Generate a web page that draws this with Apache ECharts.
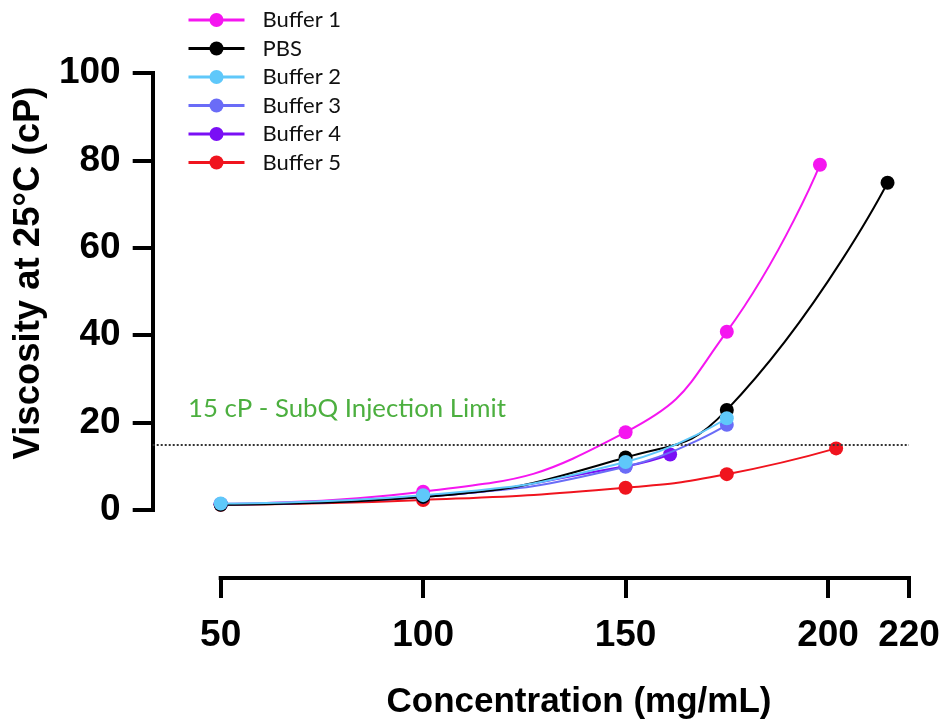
<!DOCTYPE html>
<html>
<head>
<meta charset="utf-8">
<script src="https://cdn.jsdelivr.net/npm/echarts@6/dist/echarts.min.js"></script>
<style>html,body{margin:0;padding:0;background:#fff}#c{width:943px;height:721px}</style>
</head>
<body>
<div id="c"></div>
<script>
// ---- data ----
const seriesNames = ['Buffer 1', 'PBS', 'Buffer 2', 'Buffer 3', 'Buffer 4', 'Buffer 5'];
const buffer1 = [[50, 1.4], [100, 4.2], [150, 17.8], [175, 40.8], [198, 79]];
const pbs     = [[50, 1.2], [100, 3.0], [150, 12.0], [175, 22.9], [214.7, 74.9]];
const buffer2 = [[50, 1.5], [100, 3.4], [150, 11.0], [175, 21.0]];
const buffer3 = [[50, 1.3], [100, 3.1], [150, 9.9], [175, 19.5]];
const buffer4 = [[50, 1.3], [100, 3.0], [150, 10.0], [161, 12.7]];
const buffer5 = [[50, 1.2], [100, 2.3], [150, 5.1], [175, 8.2], [202, 14.1]];
const xTicks = [50, 100, 150, 200, 220];
const yTicks = [0, 20, 40, 60, 80, 100];
const limitValue = 15;
const limitLabel = '15 cP - SubQ Injection Limit';

const colors = ['#f516f0', '#000000', '#5fc8fa', '#6a6cf7', '#7a0ff5', '#f0141e'];
const zOrder = [4, 5, 7, 3, 2, 1];
const dataSets = [buffer1, pbs, buffer2, buffer3, buffer4, buffer5];

const GRID_LEFT = 220.7, AXIS_OFFSET = 68;

const chart = echarts.init(document.getElementById('c'));
const series = seriesNames.map((name, i) => ({
  name: name,
  type: 'line',
  data: dataSets[i],
  smooth: 0.5,
  symbol: 'circle',
  symbolSize: 14,
  z: zOrder[i],
  itemStyle: { color: colors[i] },
  lineStyle: { color: colors[i], width: 2 },
  emphasis: { disabled: true },
  clip: false
}));
series[5].markLine = {
  silent: true,
  symbol: 'none',
  animation: false,
  label: { show: false },
  lineStyle: { color: '#333', type: [2, 2], width: 2 },
  data: [[{ x: GRID_LEFT - AXIS_OFFSET, xAxis: 50, yAxis: limitValue }, { xAxis: 220, yAxis: limitValue }]]
};

const tickFont = { fontFamily: 'Liberation Sans', fontWeight: 'bold', fontSize: 37, color: '#000' };

chart.setOption({
  animation: false,
  backgroundColor: '#fff',
  grid: { left: GRID_LEFT, right: 34, top: 73, bottom: 211, containLabel: false },
  legend: {
    orient: 'vertical',
    left: 182,
    top: 4,
    itemWidth: 56,
    itemHeight: 17.5,
    itemGap: 6.5,
    lineStyle: { width: 3 },
    textStyle: { fontFamily: 'Lato', fontSize: 22, color: '#111', padding: [0, 0, 0, 13] },
    data: seriesNames
  },
  xAxis: {
    type: 'value',
    min: 50, max: 220,
    offset: AXIS_OFFSET,
    axisLine: { show: true, onZero: false, lineStyle: { color: '#000', width: 4, cap: 'square' } },
    axisTick: { show: true, length: 20, lineStyle: { color: '#000', width: 4 }, customValues: xTicks },
    axisLabel: Object.assign({ margin: 39, customValues: xTicks }, tickFont),
    splitLine: { show: false }
  },
  yAxis: {
    type: 'value',
    min: 0, max: 100, interval: 20,
    offset: AXIS_OFFSET,
    axisLine: { show: true, onZero: false, lineStyle: { color: '#000', width: 4, cap: 'square' } },
    axisTick: { show: true, length: 20, lineStyle: { color: '#000', width: 4 }, customValues: yTicks },
    axisLabel: Object.assign({ margin: 32, customValues: yTicks }, tickFont),
    splitLine: { show: false }
  },
  graphic: [
    {
      type: 'text', x: 29, y: 273, rotation: Math.PI / 2,
      style: { text: 'Viscosity at 25°C (cP)', fontFamily: 'Liberation Sans', fontWeight: 'bold', fontSize: 36.5, fill: '#000', align: 'center', verticalAlign: 'middle' }
    },
    {
      type: 'text', x: 579, y: 702,
      style: { text: 'Concentration (mg/mL)', fontFamily: 'Liberation Sans', fontWeight: 'bold', fontSize: 35, fill: '#000', align: 'center', verticalAlign: 'middle' }
    },
    {
      type: 'text', x: 188, y: 409,
      style: { text: limitLabel, fontFamily: 'Lato', fontSize: 25.8, fill: '#4caf3f', align: 'left', verticalAlign: 'middle' }
    }
  ],
  series: series
});
</script>
</body>
</html>
